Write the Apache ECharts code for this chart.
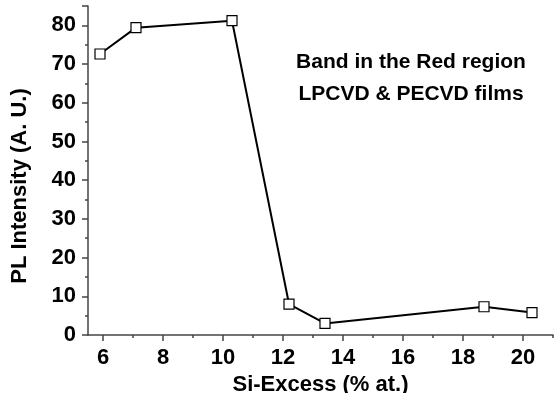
<!DOCTYPE html>
<html>
<head>
<meta charset="utf-8">
<script src="https://cdn.jsdelivr.net/npm/echarts@6/dist/echarts.min.js"></script>
<style>
  html, body { margin: 0; padding: 0; background: #fff; }
  #main { width: 556px; height: 393px; }
</style>
</head>
<body>
<div id="main"></div>
<script>
// data
var siExcess = [5.9, 7.1, 10.3, 12.2, 13.4, 18.7, 20.3];
var plIntensity = [72.6, 79.4, 81.2, 8.0, 3.0, 7.3, 5.8];
var xMajorTicks = [6, 8, 10, 12, 14, 16, 18, 20];
var xMinorTicks = [7, 9, 11, 13, 15, 17, 19, 21];
var noteLines = ['Band in the Red region', 'LPCVD & PECVD films'];

var myChart = echarts.init(document.getElementById('main'));

var font = 'Liberation Sans, Arial, sans-serif';
var axisColor = '#444';

var option = {
    animation: false,
    grid: { left: 88, right: 3, top: 6, bottom: 58, outerBoundsMode: 'none' },
    xAxis: [{
        type: 'value',
        min: 5.5,
        max: 21,
        name: 'Si-Excess (% at.)',
        nameLocation: 'middle',
        nameGap: 31,
        nameTextStyle: { fontFamily: font, fontWeight: 'bold', fontSize: 22, color: '#000' },
        axisLine: { lineStyle: { color: axisColor, width: 1.5 } },
        axisTick: { length: 6, lineStyle: { color: axisColor, width: 1.5 }, customValues: xMajorTicks },
        axisLabel: { customValues: xMajorTicks, fontFamily: font, fontWeight: 'bold', fontSize: 22, color: '#000', margin: 12 },
        splitLine: { show: false }
    }, {
        type: 'value',
        position: 'bottom',
        min: 5.5,
        max: 21,
        axisLine: { show: false },
        axisTick: { length: 3, lineStyle: { color: axisColor, width: 1.5 }, customValues: xMinorTicks },
        axisLabel: { show: false },
        splitLine: { show: false }
    }],
    yAxis: {
        type: 'value',
        min: 0,
        max: 85,
        interval: 10,
        axisLine: { show: true, lineStyle: { color: axisColor, width: 1.5 } },
        axisTick: { show: true, length: 6, lineStyle: { color: axisColor, width: 1.5 } },
        minorTick: { show: true, splitNumber: 2, length: 3, lineStyle: { color: axisColor, width: 1.5 } },
        axisLabel: {
            fontFamily: font, fontWeight: 'bold', fontSize: 22, color: '#000', margin: 12,
            formatter: function (v) { return v <= 80 ? String(v) : ''; }
        },
        splitLine: { show: false }
    },
    graphic: [{
        type: 'text',
        x: 20,
        y: 186,
        rotation: Math.PI / 2,
        style: {
            text: 'PL Intensity (A. U.)',
            align: 'center',
            verticalAlign: 'middle',
            fontFamily: font,
            fontWeight: 'bold',
            fontSize: 22,
            fill: '#000'
        }
    }, {
        type: 'text',
        x: 411,
        y: 78,
        style: {
            text: noteLines.join('\n'),
            align: 'center',
            verticalAlign: 'middle',
            fontFamily: font,
            fontWeight: 'bold',
            fontSize: 21,
            lineHeight: 32,
            fill: '#000'
        }
    }],
    series: [{
        type: 'line',
        data: siExcess.map(function (x, i) { return [x, plIntensity[i]]; }),
        symbol: 'rect',
        symbolSize: 10,
        lineStyle: { color: '#000', width: 2 },
        itemStyle: { color: '#fff', borderColor: '#000', borderWidth: 1.2 },
        z: 3
    }]
};

myChart.setOption(option);
</script>
</body>
</html>
